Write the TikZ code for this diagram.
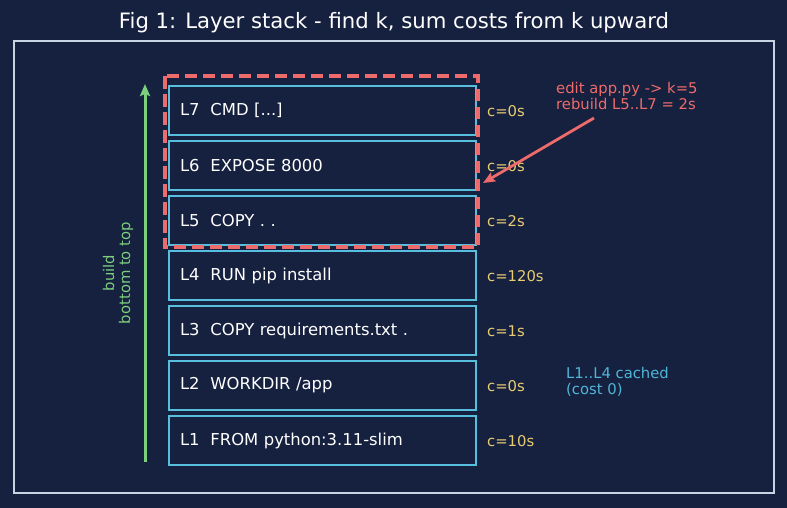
\documentclass[tikz,border=0pt]{standalone}
\usepackage{fontspec}
\setmainfont{DejaVu Sans}
\usetikzlibrary{arrows.meta}
\definecolor{bgc}{HTML}{16203F}
\definecolor{framec}{HTML}{C8D4E2}
\definecolor{boxc}{HTML}{58BEDE}
\definecolor{redc}{HTML}{EE6B6B}
\definecolor{greenc}{HTML}{7CCF7C}
\definecolor{costc}{HTML}{E8CC72}
\definecolor{cachec}{HTML}{4FB6D8}
\tikzset{
  layer/.style={draw=boxc, line width=2.9pt, fill=bgc, minimum width=307pt, minimum height=49pt,
    text width=285pt, inner xsep=10.5pt, align=left, text=white, font=\fontsize{16.4}{19}\selectfont},
  cost/.style={anchor=west, inner sep=0pt, text=costc, font=\fontsize{14.8}{17}\selectfont},
  dashbox/.style={draw=redc, line width=3.9pt, dash pattern=on 12.5pt off 5.5pt},
}
\begin{document}
\begin{tikzpicture}[x=1pt,y=-1pt]
\fill[bgc] (0,0) rectangle (787,508);
\useasboundingbox (0,0) rectangle (787,508);
\node[text=white, font=\fontsize{21.2}{25}\selectfont] (title) at (394,23) {Fig 1: Layer stack - find k, sum costs from k upward};
\draw[framec, line width=1.6pt] (14,41) rectangle (774,493);

\node[layer] (L7) at (322.5,110.5) {L7\ \ CMD [...]};
\node[layer] (L6) at (322.5,165.5) {L6\ \ EXPOSE 8000};
\node[layer] (L5) at (322.5,220.5) {L5\ \ COPY . .};
\node[layer] (L4) at (322.5,275.5) {L4\ \ RUN pip install};
\node[layer] (L3) at (322.5,330.5) {L3\ \ COPY requirements.txt .};
\node[layer] (L2) at (322.5,385.5) {L2\ \ WORKDIR /app};
\node[layer] (L1) at (322.5,440.5) {L1\ \ FROM python:3.11-slim};

\node[cost] (c7) at (487,111) {c=0s};
\node[cost] (c6) at (487,166) {c=0s};
\node[cost] (c5) at (487,221) {c=2s};
\node[cost] (c4) at (487,276) {c=120s};
\node[cost] (c3) at (487,331) {c=1s};
\node[cost] (c2) at (487,386) {c=0s};
\node[cost] (c1) at (487,441) {c=10s};

\draw[dashbox] ([xshift=-3pt,yshift=8.5pt]L7.north west) rectangle ([xshift=0.5pt,yshift=-0.5pt]L5.south east);

\coordinate (gbot) at (145,462);
\coordinate (gtop) at (145,84);
\draw[greenc, line width=3pt, -{Stealth[length=12pt,width=10pt,inset=2pt]}] (gbot) -- (gtop);
\node[rotate=90, align=center, text=greenc, inner sep=0pt, font=\fontsize{14.8}{16}\selectfont] (build) at (118,273) {build\\bottom to top};

\node[anchor=west, align=left, inner sep=0pt, text=redc, font=\fontsize{14.8}{16}\selectfont] (note) at (556,96) {edit app.py -> k=5\\rebuild L5..L7 = 2s};
\coordinate (atail) at (594,118);
\coordinate (ahead) at (483,183);
\draw[redc, line width=2.8pt, -{Stealth[length=12pt,width=10pt,inset=2pt]}] (atail) -- (ahead);

\node[anchor=west, align=left, inner sep=0pt, text=cachec, font=\fontsize{14.8}{16}\selectfont] (cached) at (566,382) {L1..L4 cached\\(cost 0)};
\end{tikzpicture}
\end{document}
